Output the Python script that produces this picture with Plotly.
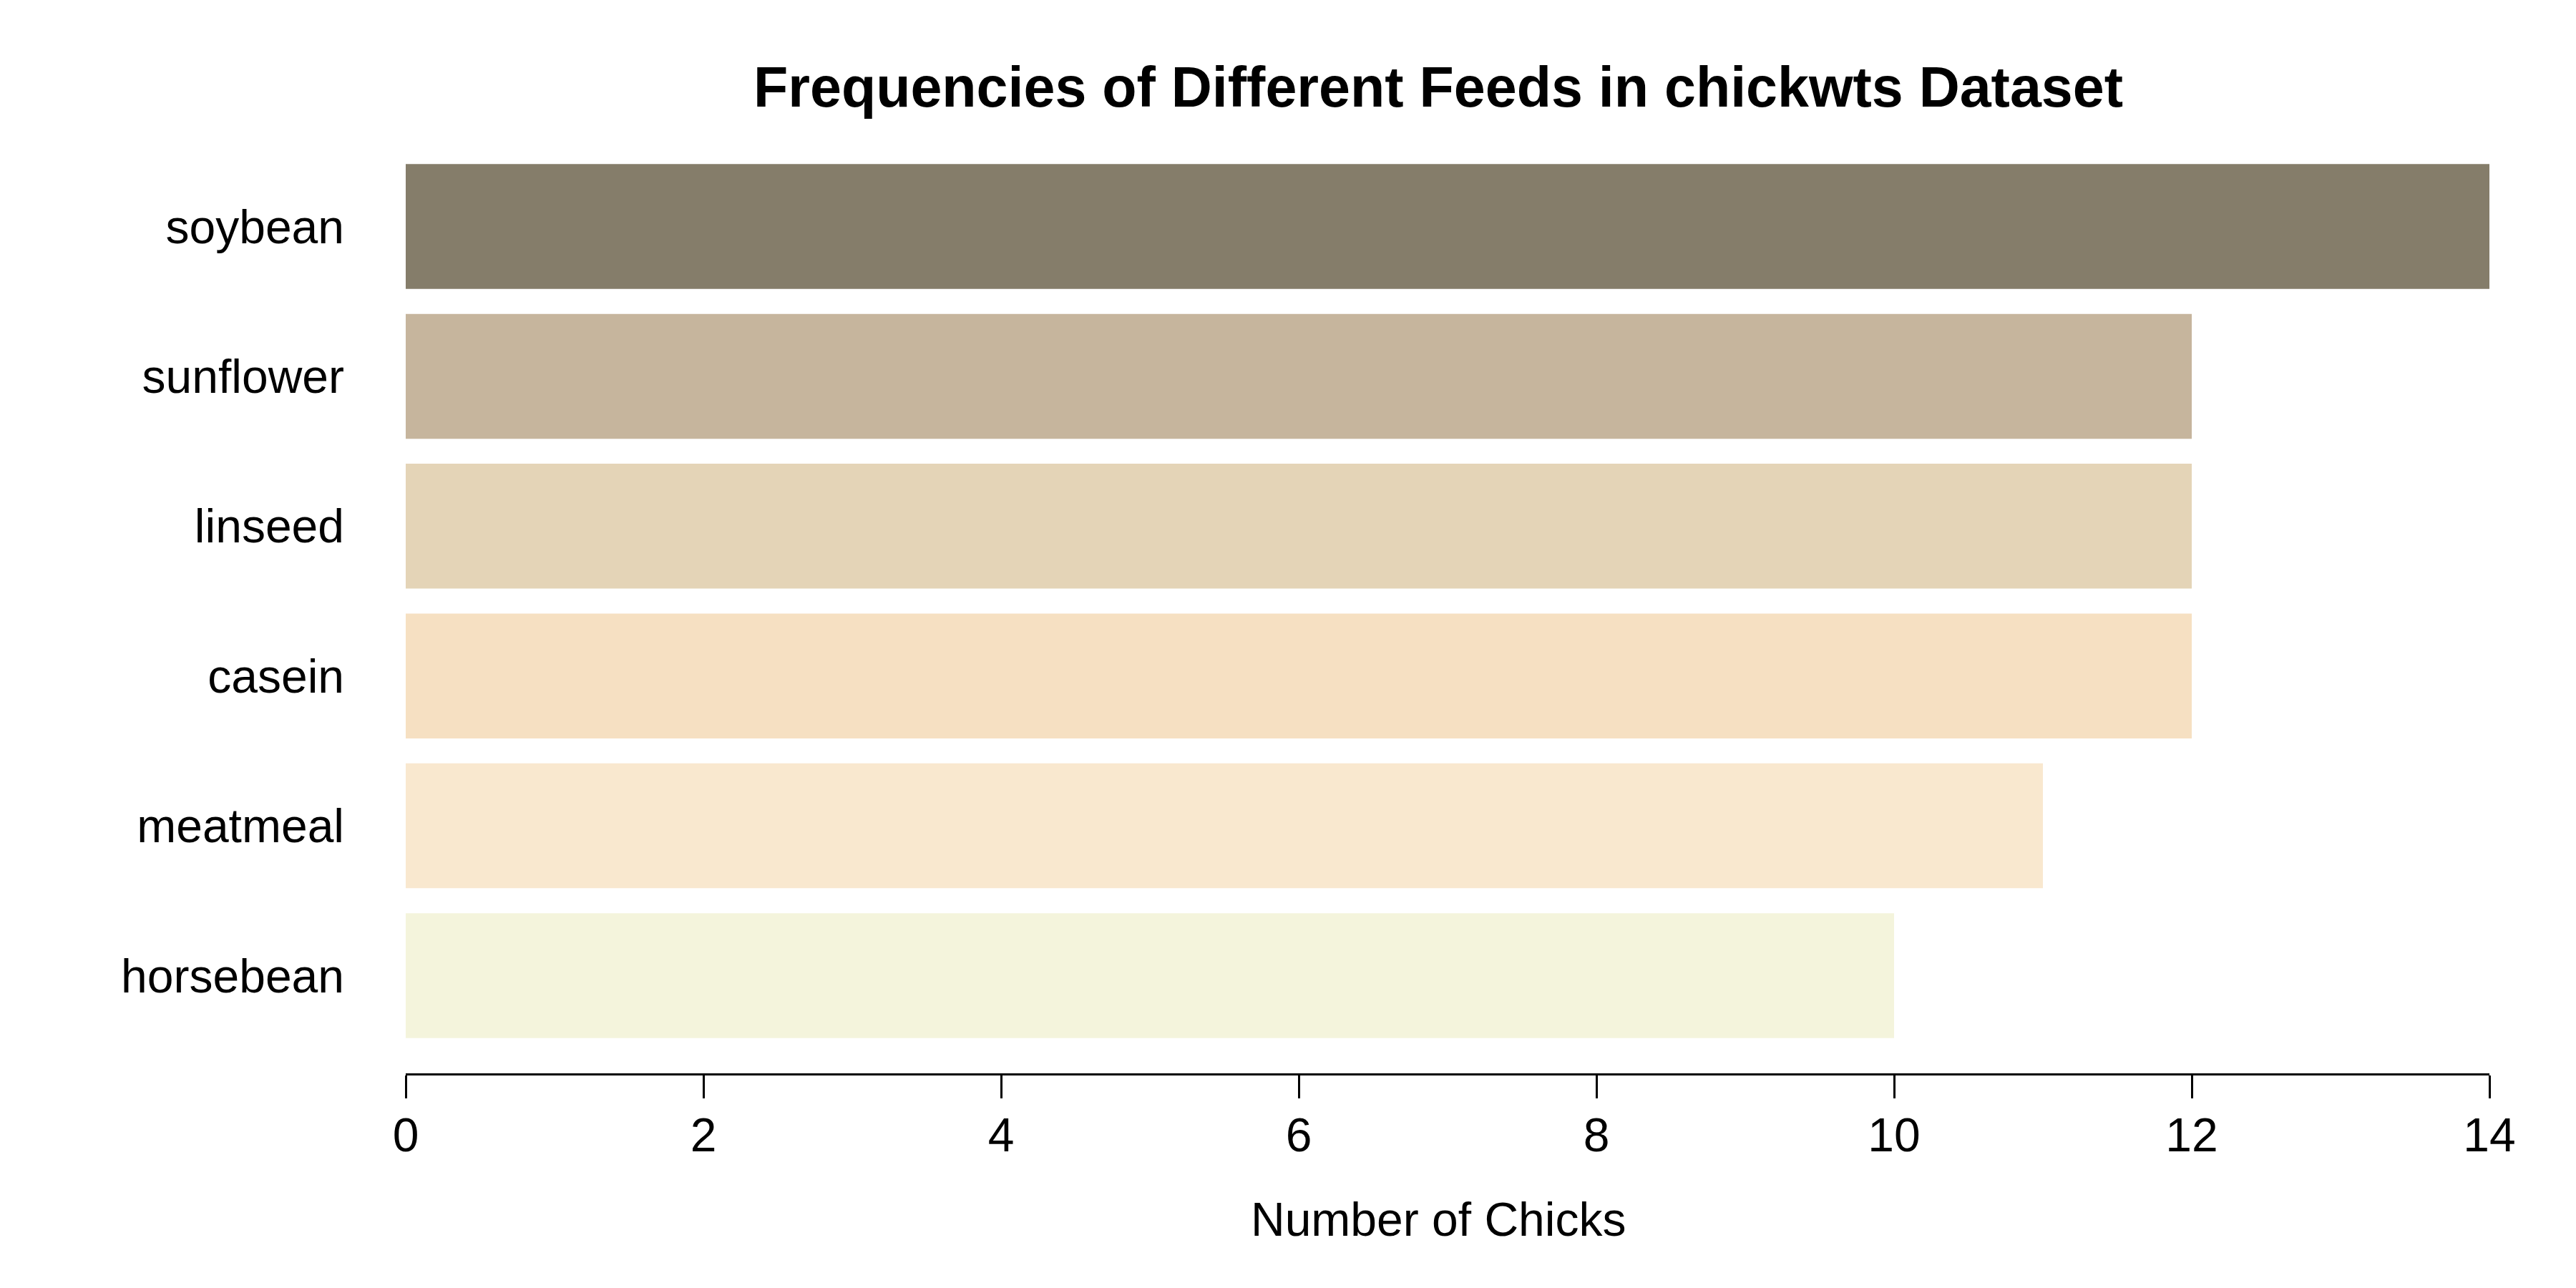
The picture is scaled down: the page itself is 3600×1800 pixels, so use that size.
import plotly.graph_objects as go

feeds = ["horsebean", "meatmeal", "casein", "linseed", "sunflower", "soybean"]
counts = [10, 11, 12, 12, 12, 14]
colors = ["#F4F4DC", "#F9E8CF", "#F6E0C2", "#E4D4B7", "#C6B59D", "#857D6A"]
x_ticks = [0, 2, 4, 6, 8, 10, 12, 14]

title_text = "Frequencies of Different Feeds in chickwts Dataset"
x_title = "Number of Chicks"

FONT = "Liberation Sans, Arial, Helvetica, sans-serif"

fig = go.Figure(
    go.Bar(
        x=counts,
        y=feeds,
        orientation="h",
        marker=dict(color=colors, line=dict(width=0)),
        hoverinfo="x+y",
    )
)

fig.update_layout(
    width=3600,
    height=1800,
    paper_bgcolor="white",
    plot_bgcolor="white",
    margin=dict(l=559, r=129, t=172, b=308),
    bargap=1 / 6,
    showlegend=False,
    font=dict(family=FONT, size=66, color="black"),
    title=dict(
        text="<b>" + title_text + "</b>",
        font=dict(family=FONT, size=79, color="black"),
        x=2002 / 3600,
        xref="container",
        xanchor="center",
        y=1 - 86 / 1800,
        yref="container",
        yanchor="top",
    ),
    annotations=[
        dict(
            text=x_title,
            xref="paper",
            yref="paper",
            x=0.5,
            y=0,
            xanchor="center",
            yanchor="middle",
            xshift=-13,
            yshift=-204,
            showarrow=False,
            font=dict(family=FONT, size=66, color="black"),
        )
    ],
)

fig.update_xaxes(
    range=[0, 14],
    tickvals=x_ticks,
    ticktext=[str(v) for v in x_ticks],
    showgrid=False,
    zeroline=False,
    showline=True,
    linecolor="black",
    linewidth=3,
    ticks="outside",
    ticklen=32,
    tickwidth=3,
    tickcolor="black",
    ticklabelstandoff=-5,
    tickfont=dict(family=FONT, size=66, color="black"),
)

fig.update_yaxes(
    type="category",
    categoryorder="array",
    categoryarray=feeds,
    range=[-0.652, 5.652],
    showgrid=False,
    zeroline=False,
    showline=False,
    ticks="",
    ticklabelstandoff=85,
    tickfont=dict(family=FONT, size=66, color="black"),
)

fig.write_html("out.html")
